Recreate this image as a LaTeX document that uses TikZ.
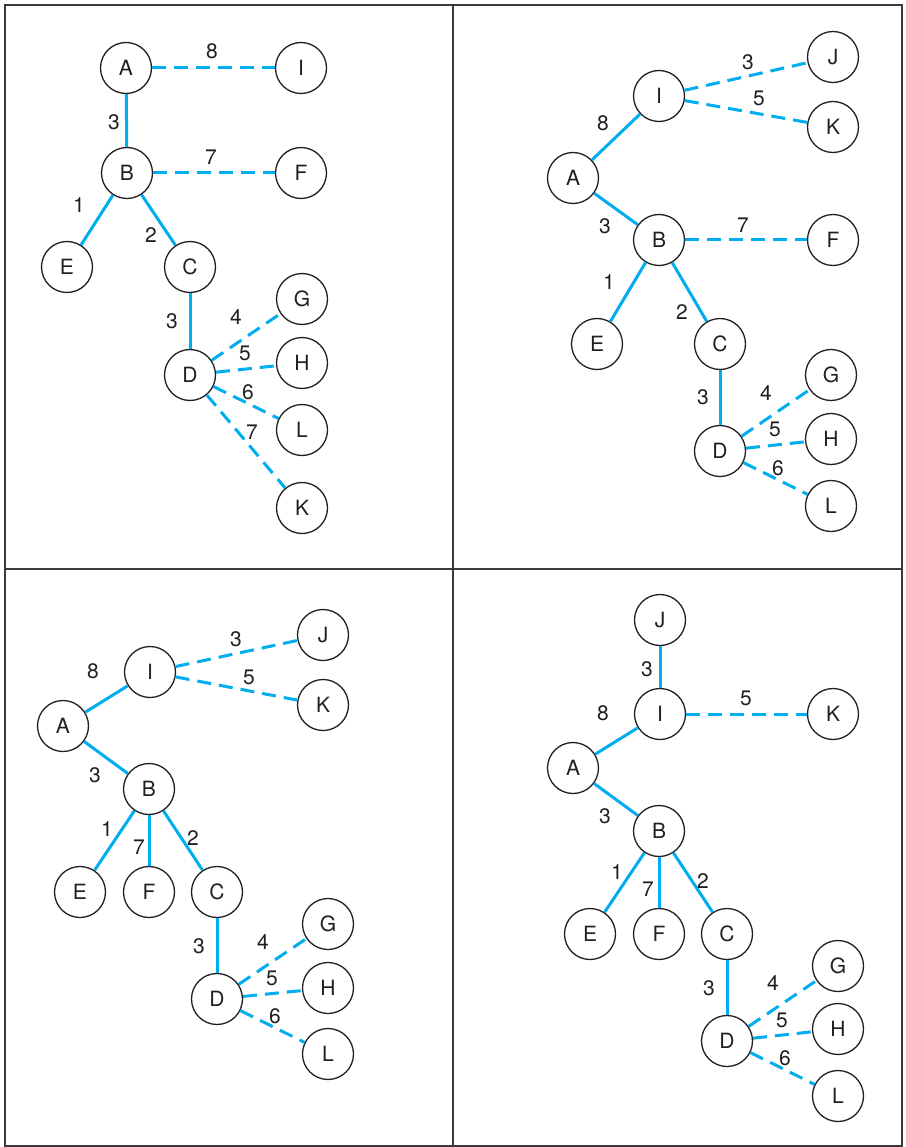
\documentclass[tikz,border=0pt]{standalone}
\usepackage{fontspec}
\setmainfont{TeX Gyre Heros}
\definecolor{ink}{HTML}{231F20}
\definecolor{cyanline}{HTML}{00AEEF}
\definecolor{frame}{HTML}{3A3A3A}
\tikzset{
  v/.style={circle, draw=ink, line width=1.3pt, minimum size=51pt, inner sep=0pt, fill=white, text=ink, font=\fontsize{21}{25}\selectfont},
  w/.style={inner sep=0pt, text=ink, font=\fontsize{21}{25}\selectfont},
  tree/.style={draw=cyanline, line width=3pt},
  nontree/.style={draw=cyanline, line width=3pt, dash pattern=on 14pt off 8pt},
  panelframe/.style={draw=frame, line width=1.4pt}
}
\begin{document}
\begin{tikzpicture}[x=1pt,y=-1pt]
\useasboundingbox (0,0) rectangle (905,1147);
\fill[white] (0,0) rectangle (905,1147);
% frame
\coordinate (tl) at (5,5);
\coordinate (br) at (902,1146);
\coordinate (vt) at (453,5);
\coordinate (vb) at (453,1146);
\coordinate (hl) at (5,569);
\coordinate (hr) at (902,569);
\draw[panelframe] (tl) rectangle (br);
\draw[panelframe] (vt) -- (vb);
\draw[panelframe] (hl) -- (hr);

% ---------- Panel 1 ----------
\node[v] (aA) at (126,68) {A};
\node[v] (aI) at (301,68) {I};
\node[v] (aB) at (127,173) {B};
\node[v] (aF) at (301,173) {F};
\node[v] (aE) at (67,267) {E};
\node[v] (aC) at (190,267) {C};
\node[v] (aG) at (302,299) {G};
\node[v] (aD) at (190,375) {D};
\node[v] (aH) at (302,363) {H};
\node[v] (aL) at (302,430) {L};
\node[v] (aK) at (302,508) {K};
\draw[nontree] (aA) -- (aI);
\draw[tree] (aA) -- (aB);
\draw[nontree] (aB) -- (aF);
\draw[tree] (aB) -- (aE);
\draw[tree] (aB) -- (aC);
\draw[tree] (aC) -- (aD);
\draw[nontree] (aD) -- (aG);
\draw[nontree] (aD) -- (aH);
\draw[nontree] (aD) -- (aL);
\draw[nontree] (aD) -- (aK);
\node[w] (al1) at (212,51) {8};
\node[w] (al2) at (114,122) {3};
\node[w] (al3) at (211,157) {7};
\node[w] (al4) at (79,205) {1};
\node[w] (al5) at (151,235) {2};
\node[w] (al6) at (172,321) {3};
\node[w] (al7) at (236,317) {4};
\node[w] (al8) at (245,353) {5};
\node[w] (al9) at (248,392) {6};
\node[w] (al10) at (252,432) {7};

% ---------- Panel 2 ----------
\node[v] (bI) at (659,96) {I};
\node[v] (bJ) at (833,57) {J};
\node[v] (bK) at (833,127) {K};
\node[v] (bA) at (573,178) {A};
\node[v] (bB) at (659,240) {B};
\node[v] (bF) at (833,240) {F};
\node[v] (bE) at (597,344) {E};
\node[v] (bC) at (720,344) {C};
\node[v] (bG) at (831,375) {G};
\node[v] (bD) at (720,451) {D};
\node[v] (bH) at (831,439) {H};
\node[v] (bL) at (831,506) {L};
\draw[tree] (bA) -- (bI);
\draw[nontree] (bI) -- (bJ);
\draw[nontree] (bI) -- (bK);
\draw[tree] (bA) -- (bB);
\draw[nontree] (bB) -- (bF);
\draw[tree] (bB) -- (bE);
\draw[tree] (bB) -- (bC);
\draw[tree] (bC) -- (bD);
\draw[nontree] (bD) -- (bG);
\draw[nontree] (bD) -- (bH);
\draw[nontree] (bD) -- (bL);
\node[w] (bl1) at (748,62) {3};
\node[w] (bl2) at (759,98) {5};
\node[w] (bl3) at (603,123) {8};
\node[w] (bl4) at (605,226) {3};
\node[w] (bl5) at (743,225) {7};
\node[w] (bl6) at (609,282) {1};
\node[w] (bl7) at (682,312) {2};
\node[w] (bl8) at (703,397) {3};
\node[w] (bl9) at (766,393) {4};
\node[w] (bl10) at (775,429) {5};
\node[w] (bl11) at (778,468) {6};

% ---------- Panel 3 ----------
\node[v] (cI) at (150,672) {I};
\node[v] (cJ) at (323,635) {J};
\node[v] (cK) at (323,705) {K};
\node[v] (cA) at (63,726) {A};
\node[v] (cB) at (149,789) {B};
\node[v] (cE) at (80,892) {E};
\node[v] (cF) at (149,892) {F};
\node[v] (cC) at (217,892) {C};
\node[v] (cG) at (328,924) {G};
\node[v] (cD) at (217,999) {D};
\node[v] (cH) at (328,988) {H};
\node[v] (cL) at (328,1054) {L};
\draw[tree] (cA) -- (cI);
\draw[nontree] (cI) -- (cJ);
\draw[nontree] (cI) -- (cK);
\draw[tree] (cA) -- (cB);
\draw[tree] (cB) -- (cE);
\draw[tree] (cB) -- (cF);
\draw[tree] (cB) -- (cC);
\draw[tree] (cC) -- (cD);
\draw[nontree] (cD) -- (cG);
\draw[nontree] (cD) -- (cH);
\draw[nontree] (cD) -- (cL);
\node[w] (cl1) at (93,671) {8};
\node[w] (cl2) at (236,639) {3};
\node[w] (cl3) at (249,677) {5};
\node[w] (cl4) at (95,775) {3};
\node[w] (cl5) at (107,829) {1};
\node[w] (cl6) at (139,847) {7};
\node[w] (cl7) at (193,838) {2};
\node[w] (cl8) at (199,946) {3};
\node[w] (cl9) at (263,942) {4};
\node[w] (cl10) at (272,978) {5};
\node[w] (cl11) at (275,1016) {6};

% ---------- Panel 4 ----------
\node[v] (dJ) at (660,620) {J};
\node[v] (dI) at (660,714) {I};
\node[v] (dK) at (833,714) {K};
\node[v] (dA) at (573,768) {A};
\node[v] (dB) at (659,831) {B};
\node[v] (dE) at (590,934) {E};
\node[v] (dF) at (659,934) {F};
\node[v] (dC) at (727,934) {C};
\node[v] (dG) at (838,966) {G};
\node[v] (dD) at (727,1041) {D};
\node[v] (dH) at (838,1029) {H};
\node[v] (dL) at (838,1096) {L};
\draw[tree] (dJ) -- (dI);
\draw[nontree] (dI) -- (dK);
\draw[tree] (dA) -- (dI);
\draw[tree] (dA) -- (dB);
\draw[tree] (dB) -- (dE);
\draw[tree] (dB) -- (dF);
\draw[tree] (dB) -- (dC);
\draw[tree] (dC) -- (dD);
\draw[nontree] (dD) -- (dG);
\draw[nontree] (dD) -- (dH);
\draw[nontree] (dD) -- (dL);
\node[w] (dl1) at (647,669) {3};
\node[w] (dl2) at (603,713) {8};
\node[w] (dl3) at (746,698) {5};
\node[w] (dl4) at (605,816) {3};
\node[w] (dl5) at (617,872) {1};
\node[w] (dl6) at (648,889) {7};
\node[w] (dl7) at (703,881) {2};
\node[w] (dl8) at (709,988) {3};
\node[w] (dl9) at (773,983) {4};
\node[w] (dl10) at (782,1020) {5};
\node[w] (dl11) at (785,1058) {6};
\end{tikzpicture}
\end{document}
